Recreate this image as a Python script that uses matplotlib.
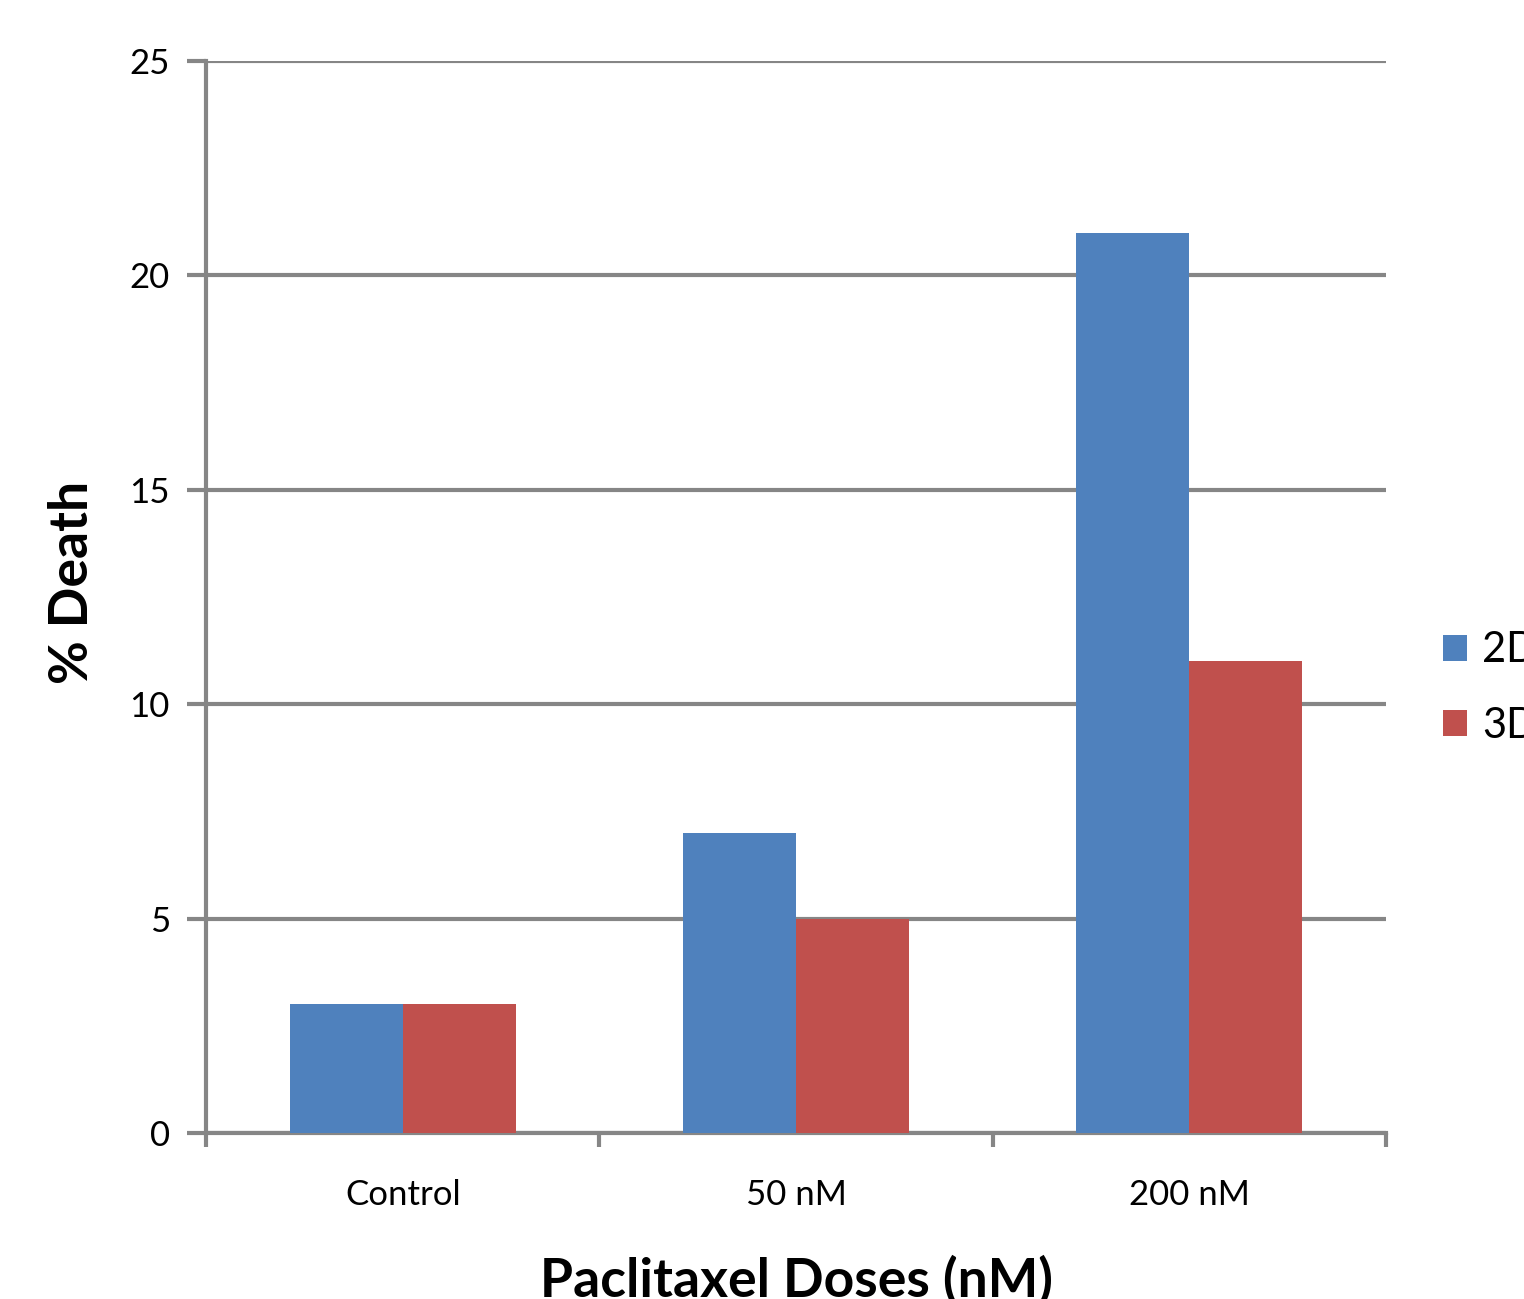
import numpy as np
import matplotlib.pyplot as plt

categories = ['Control', '50 nM', '200 nM']
series_2d = [3, 7, 21]
series_3d = [3, 5, 11]
series_names = ['2D', '3D']

blue = '#4F81BD'
red = '#C0504D'
grey = '#868686'

plt.rcParams['font.family'] = ['Lato', 'DejaVu Sans']

fig = plt.figure(figsize=(15.24, 12.99), dpi=100)
ax = fig.add_axes([0.1352, 0.1278, 0.9094 - 0.1352, 0.953 - 0.1278])

x = np.arange(len(categories)) + 0.5
w = 0.287
ax.bar(x - w / 2, series_2d, w, color=blue, label=series_names[0], zorder=3)
ax.bar(x + w / 2, series_3d, w, color=red, label=series_names[1], zorder=3)

ax.set_xlim(0, len(categories))
ax.set_ylim(0, 25)
ax.set_yticks(range(0, 26, 5))
ax.yaxis.grid(True, color=grey, linewidth=3, zorder=0)

# category labels sit between the boundary ticks
ax.set_xticks(range(len(categories) + 1))
ax.set_xticklabels([])
ax.set_xticks(x, minor=True)
ax.set_xticklabels(categories, minor=True, fontsize=25)
ax.tick_params(axis='x', which='minor', length=0, pad=33)
ax.tick_params(axis='x', which='major', length=10, width=3, color=grey)
ax.tick_params(axis='y', length=14, width=3, color=grey, labelsize=25, pad=12)

for side in ['top', 'right']:
    ax.spines[side].set_visible(False)
for side in ['left', 'bottom']:
    ax.spines[side].set_color(grey)
    ax.spines[side].set_linewidth(3)

fig.text(73 / 1524, 1 - 582 / 1299, '% Death', fontsize=38.5, fontweight='bold',
         rotation=90, ha='center', va='center')
fig.text(797 / 1524, 0.002, 'Paclitaxel Doses (nM)', fontsize=38.5,
         fontweight='bold', ha='center', va='baseline')

fig.legend(loc='center left', bbox_to_anchor=(1443 / 1524, 1 - 688 / 1299),
           frameon=False, borderpad=0, borderaxespad=0, fontsize=30,
           handlelength=0.58, handleheight=0.58, handletextpad=0.35,
           labelspacing=0.9)

fig.savefig('out.png', dpi=100)
